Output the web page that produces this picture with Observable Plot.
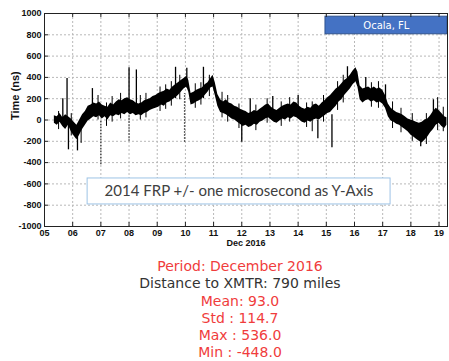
<!DOCTYPE html>
<html><head><meta charset="utf-8">
<script src="https://cdn.jsdelivr.net/npm/d3@7"></script>
<script src="https://cdn.jsdelivr.net/npm/@observablehq/plot@0.6"></script>
<style>
body{margin:0;background:#fff;width:449px;height:361px;overflow:hidden;font-family:"DejaVu Sans",sans-serif}
#chart svg{display:block}
#stats{margin-left:31px;width:418px;text-align:center;font-size:14px;line-height:17.3px;padding-top:8px}
</style></head><body>
<div id="chart"></div>
<div id="stats"></div>
<script>
// ---- data ----
const days = [5.35,5.45,5.55,5.65,5.75,5.85,5.95,6.05,6.15,6.25,6.35,6.45,6.55,6.65,6.75,6.85,6.95,7.05,7.15,7.25,7.35,7.45,7.55,7.65,7.75,7.85,7.95,8.05,8.15,8.25,8.35,8.45,8.55,8.65,8.75,8.85,8.95,9.05,9.15,9.25,9.35,9.45,9.55,9.65,9.75,9.85,9.95,10.05,10.12,10.2,10.3,10.4,10.5,10.6,10.7,10.8,10.9,10.98,11.06,11.15,11.25,11.35,11.45,11.55,11.65,11.75,11.85,11.95,12.05,12.15,12.25,12.35,12.45,12.55,12.65,12.75,12.85,12.95,13.05,13.15,13.25,13.35,13.45,13.55,13.65,13.75,13.85,13.95,14.05,14.15,14.25,14.35,14.45,14.55,14.65,14.75,14.85,14.95,15.05,15.15,15.25,15.35,15.45,15.55,15.65,15.75,15.85,15.95,16.05,16.12,16.2,16.3,16.4,16.5,16.6,16.7,16.8,16.9,17.0,17.1,17.2,17.3,17.4,17.5,17.6,17.7,17.8,17.9,18.0,18.1,18.2,18.3,18.4,18.5,18.6,18.7,18.8,18.9,19.0,19.1,19.2,19.28];
const low = [-30,-50,-20,-60,-90,-50,-110,-150,-185,-140,-90,-50,-10,10,30,20,40,10,30,0,40,30,50,40,60,50,70,50,60,40,50,40,60,70,90,100,110,120,140,130,160,170,190,210,230,260,290,310,260,140,150,170,180,200,230,260,300,310,230,130,70,60,50,30,10,0,-20,-40,-60,-50,-70,-60,-40,-50,-20,-10,10,20,0,-20,-30,-10,10,0,20,10,30,20,0,-20,-30,-10,-20,0,10,0,20,40,60,70,100,130,170,190,230,260,290,330,360,310,190,160,180,190,170,180,160,170,150,110,30,-10,-20,-40,-50,-70,-90,-110,-140,-160,-180,-200,-215,-190,-160,-120,-90,-50,-30,-60,-80,-50];
const high = [40,30,60,20,50,30,10,-20,-50,0,50,80,130,140,160,150,170,140,130,120,160,140,170,190,180,200,210,190,180,160,150,160,180,190,200,220,230,250,260,270,290,280,310,330,350,370,390,410,370,250,260,280,290,300,330,350,390,420,350,240,190,170,190,160,150,130,120,100,90,80,60,70,90,80,100,120,140,150,120,100,90,110,130,140,150,140,170,160,130,110,100,120,110,140,150,130,160,180,210,230,260,290,310,340,370,390,420,460,490,450,320,290,300,310,290,310,290,300,280,230,150,110,90,70,60,50,30,10,0,-10,-20,-30,-20,0,10,40,80,110,90,60,30,20];
const spikeDays = [5.65,5.8,5.85,6.17,6.7,8.0,8.26,9.65,10.05,10.64,12.0,12.3,13.1,14.0,14.7,15.2,15.75,16.4,17.1,18.35,18.8];
const spikeLow  = [0,0,-280,-290,50,100,100,200,300,200,-210,0,50,50,-175,-260,300,200,150,-250,0];
const spikeHigh = [200,390,0,-50,295,490,470,495,485,495,0,200,220,230,0,50,500,400,330,-100,190];
const noiseDays = [5.5,5.95,6.3,6.9,7.2,7.4,7.7,8.4,8.6,9.1,9.3,9.5,9.8,10.35,10.55,10.85,11.3,11.5,11.9,12.5,12.9,13.4,13.7,14.3,14.5,14.9,15.4,15.6,16.6,16.85,17.35,17.65,18.05,18.55,18.95,19.15];
const noiseLow  = [-90,-150,-220,0,-60,-20,10,0,20,80,100,130,190,110,140,220,20,-20,-80,-100,-30,-60,-20,-70,-110,-20,90,160,120,110,-80,-120,-200,-230,-100,-110];
const noiseHigh = [80,60,0,230,160,220,250,230,250,310,330,360,420,340,350,420,260,230,150,140,200,170,210,160,170,230,360,420,350,360,170,110,60,60,210,120];
const dotDays = [7.0,8.0,9.97];
const dotLow  = [-420,-200,-210];
const dotHigh = [0,50,250];
const xTicks = [5,6,7,8,9,10,11,12,13,14,15,16,17,18,19];
const xTickLabels = ["05","06","07","08","09","10","11","12","13","14","15","16","17","18","19"];
const yTicks = [-1000,-800,-600,-400,-200,0,200,400,600,800,1000];
const statLines = ["Period: December 2016","Distance to XMTR: 790 miles","Mean: 93.0","Std : 114.7","Max : 536.0","Min : -448.0"];
const statColors = ["#f03c3c","#333333","#f03c3c","#f03c3c","#f03c3c","#f03c3c"];

const band = days.map((d,i)=>({day:d, lo:low[i], hi:high[i]}));
const spikes = spikeDays.map((d,i)=>({day:d, lo:spikeLow[i], hi:spikeHigh[i]}));
const noise = noiseDays.map((d,i)=>({day:d, lo:noiseLow[i], hi:noiseHigh[i]}));
const dots = dotDays.map((d,i)=>({day:d, lo:dotLow[i], hi:dotHigh[i]}));

const W=449, H=250, mL=44, mR=2, mT=13, mB=24;
const innerH = H-mT-mB, innerW = W-mL-mR;
const fontAxis = "'Liberation Sans Narrow','Liberation Sans',Arial,sans-serif";

const chart = Plot.plot({
  width: W, height: H,
  marginLeft: mL, marginRight: mR, marginTop: mT, marginBottom: mB,
  x: {domain: [5, 19.3]},
  y: {domain: [-1000, 1000]},
  style: {fontFamily: fontAxis, fontSize: "9px", fontWeight: "bold", color: "#111", background: "#fff"},
  marks: [
    Plot.gridX(xTicks, {stroke: "#b8b8b8", strokeOpacity: 1, strokeDasharray: "2,2"}),
    Plot.gridY(yTicks, {stroke: "#b8b8b8", strokeOpacity: 1, strokeDasharray: "2,2"}),
    Plot.areaY(band, {x: "day", y1: "lo", y2: "hi", fill: "#000"}),
    Plot.ruleX(noise, {x: "day", y1: "lo", y2: "hi", stroke: "#000", strokeWidth: 1}),
    Plot.ruleX(spikes, {x: "day", y1: "lo", y2: "hi", stroke: "#000", strokeWidth: 1.3}),
    Plot.ruleX(dots, {x: "day", y1: "lo", y2: "hi", stroke: "#333", strokeWidth: 1.3, strokeDasharray: "1.5,1.5"}),
    Plot.rect([0], {x1: 6.53, x2: 17.28, y1: -793, y2: -549, fill: "#fff", stroke: "#9dc3e6", strokeWidth: 1}),
    Plot.text(["2014 FRP +/- one microsecond as Y-Axis"], {x: 11.9, y: -671, text: d=>d, fontFamily: "Lato, 'Open Sans', sans-serif", fontSize: 15, fontWeight: "normal", fill: "#404040"}),
    Plot.rect([0], {x1: 14.97, x2: 19.3, y1: 805, y2: 970, fill: "#4472c4", stroke: "#2f528f", strokeWidth: 1}),
    Plot.text(["Ocala, FL"], {x: 17.13, y: 887, text: d=>d, fontFamily: "'DejaVu Sans', sans-serif", fontSize: 10, fontWeight: "normal", fill: "#fff"}),
    Plot.tickX(xTicks, {x: d=>d, insetTop: innerH-4, stroke: "#222"}),
    Plot.tickX(xTicks, {x: d=>d, insetBottom: innerH-4, stroke: "#222"}),
    Plot.tickY(yTicks, {y: d=>d, insetRight: innerW-4, stroke: "#222"}),
    Plot.axisX(xTicks, {tickSize: 0, tickPadding: 3.5, tickFormat: d=>xTickLabels[xTicks.indexOf(d)], label: null}),
    Plot.axisY(yTicks, {tickSize: 0, tickPadding: 3, tickFormat: d=>String(d), label: null}),
    Plot.text(["Dec 2016"], {frameAnchor: "bottom", dy: 19.5, text: d=>d, fontSize: 9, fontWeight: "bold", fill: "#111"}),
    Plot.text(["Time (ns)"], {frameAnchor: "left", dx: -29, rotate: -90, text: d=>d, fontSize: 11, fontWeight: "bold", fontFamily: "'Liberation Sans',Arial,sans-serif", fill: "#111"}),
    Plot.frame({stroke: "#222", strokeWidth: 1})
  ]
});
document.getElementById("chart").appendChild(chart);

const stats = document.getElementById("stats");
statLines.forEach((t,i)=>{
  const d = document.createElement("div");
  d.textContent = t;
  d.style.color = statColors[i];
  stats.appendChild(d);
});
</script></body></html>
